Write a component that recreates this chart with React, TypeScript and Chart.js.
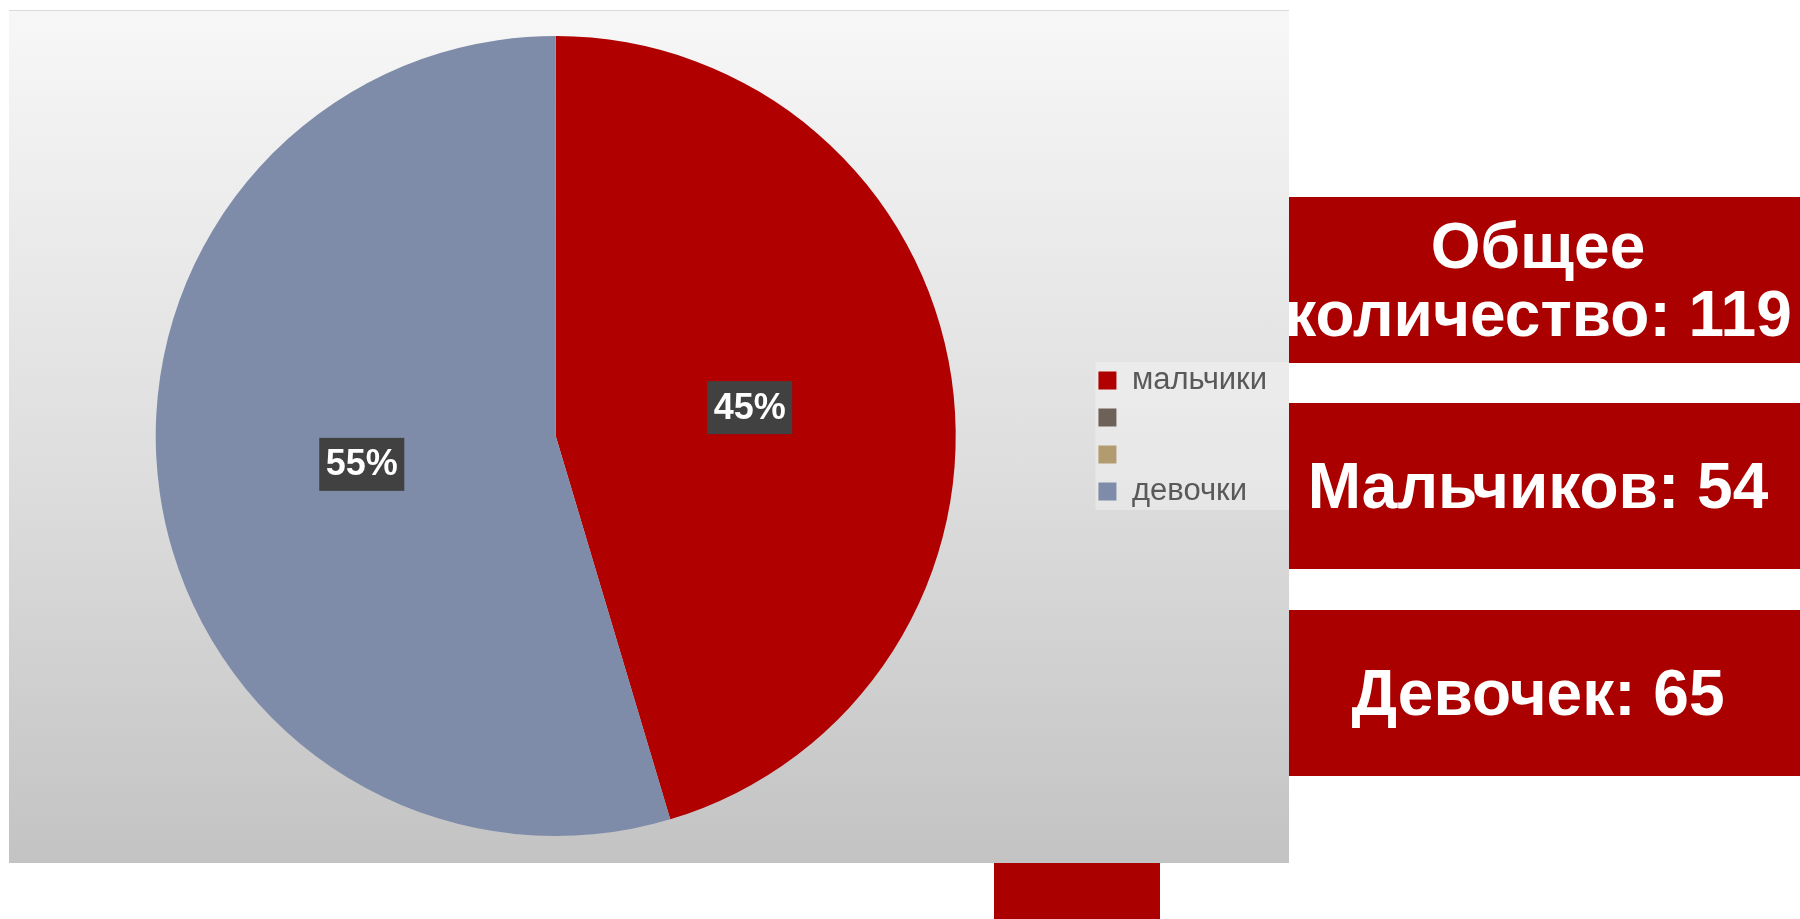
import React, { useEffect, useRef } from "react";
import { Chart, registerables } from "chart.js";

Chart.register(...registerables);

// ---- data ----
const categories = ["мальчики", "", "", "девочки"];
const counts = [54, 0, 0, 65];
const sliceColors = ["#B00000", "#6E6158", "#B29B6E", "#7F8CA9"];
const totalLines = ["Общее", "количество: 119"];
const boysLine = "Мальчиков: 54";
const girlsLine = "Девочек: 65";

const labelPlugin = {
  id: "sliceLabels",
  afterDatasetsDraw(chart: any) {
    const ctx = chart.ctx;
    const meta = chart.getDatasetMeta(0);
    const data: number[] = chart.data.datasets[0].data;
    const total = data.reduce((a, b) => a + b, 0);
    ctx.save();
    meta.data.forEach((arc: any, i: number) => {
      const v = data[i];
      if (!v) return;
      const { x, y, startAngle, endAngle, outerRadius } = arc.getProps(
        ["x", "y", "startAngle", "endAngle", "outerRadius"],
        true
      );
      const mid = (startAngle + endAngle) / 2;
      const r = outerRadius * 0.49;
      const cx = x + Math.cos(mid) * r;
      const cy = y + Math.sin(mid) * r;
      const text = Math.round((v / total) * 100) + "%";
      ctx.font = 'bold 36px "Liberation Sans", Arial, sans-serif';
      const w = ctx.measureText(text).width + 13;
      const h = 53;
      ctx.fillStyle = "#414141";
      ctx.fillRect(cx - w / 2, cy - h / 2, w, h);
      ctx.fillStyle = "#FFFFFF";
      ctx.textAlign = "center";
      ctx.textBaseline = "middle";
      ctx.fillText(text, cx, cy + 1);
    });
    ctx.restore();
  },
};

const legendBgPlugin = {
  id: "legendBg",
  beforeDraw(chart: any) {
    const lg = chart.legend;
    if (!lg) return;
    const ctx = chart.ctx;
    const cy = (chart.chartArea.top + chart.chartArea.bottom) / 2;
    ctx.save();
    ctx.fillStyle = "rgba(255,255,255,0.3)";
    ctx.fillRect(lg.left + 3, cy - 74, chart.width - lg.left - 3, 148);
    ctx.restore();
  },
};

function PieChart() {
  const ref = useRef<HTMLCanvasElement | null>(null);
  useEffect(() => {
    if (!ref.current) return;
    const chart = new Chart(ref.current, {
      type: "pie",
      data: {
        labels: categories,
        datasets: [
          {
            data: counts,
            backgroundColor: sliceColors,
            borderWidth: 0,
          },
        ],
      },
      options: {
        responsive: false,
        animation: false,
        devicePixelRatio: 1,
        layout: { padding: { left: 10, right: 12, top: 26, bottom: 27 } },
        plugins: {
          tooltip: { enabled: false },
          legend: {
            position: "right",
            align: "center",
            labels: {
              boxWidth: 18,
              boxHeight: 18,
              padding: 6,
              color: "#595959",
              font: { family: '"Liberation Sans", Arial, sans-serif', size: 31 },
            },
          },
        },
      } as any,
      plugins: [legendBgPlugin, labelPlugin],
    });
    return () => chart.destroy();
  }, []);
  return <canvas ref={ref} width={1280} height={853} style={{ display: "block" }} />;
}

const boxStyle = (top: number): React.CSSProperties => ({
  position: "absolute",
  left: 1289,
  top,
  width: 511,
  height: 166,
  background: "#AA0000",
  overflow: "hidden",
  display: "flex",
  flexDirection: "column",
  alignItems: "center",
  justifyContent: "center",
  paddingRight: 13,
  boxSizing: "border-box",
  color: "#FFFFFF",
  fontFamily: '"Liberation Sans", Arial, sans-serif',
  fontWeight: 700,
  fontSize: 64,
  lineHeight: "68px",
  whiteSpace: "nowrap",
});

export default function App() {
  return (
    <div
      style={{
        position: "absolute",
        left: 0,
        top: 0,
        width: 1800,
        height: 919,
        overflow: "hidden",
        background: "#FFFFFF",
      }}
    >
      <div
        style={{
          position: "absolute",
          left: 9,
          top: 10,
          width: 1280,
          height: 853,
          background: "linear-gradient(to bottom, #F7F7F7 0%, #DDDDDD 55%, #C3C3C3 100%)",
          borderTop: "1px solid #DADADA",
          boxSizing: "border-box",
        }}
      >
        <div style={{ position: "absolute", left: 0, top: -1 }}>
          <PieChart />
        </div>
      </div>
      <div style={boxStyle(197)}>
        {totalLines.map((l, i) => (
          <div key={i}>{l}</div>
        ))}
      </div>
      <div style={boxStyle(403)}>
        <div>{boysLine}</div>
      </div>
      <div style={boxStyle(610)}>
        <div>{girlsLine}</div>
      </div>
      <div
        style={{
          position: "absolute",
          left: 994,
          top: 863,
          width: 166,
          height: 56,
          background: "#AA0000",
        }}
      />
    </div>
  );
}
